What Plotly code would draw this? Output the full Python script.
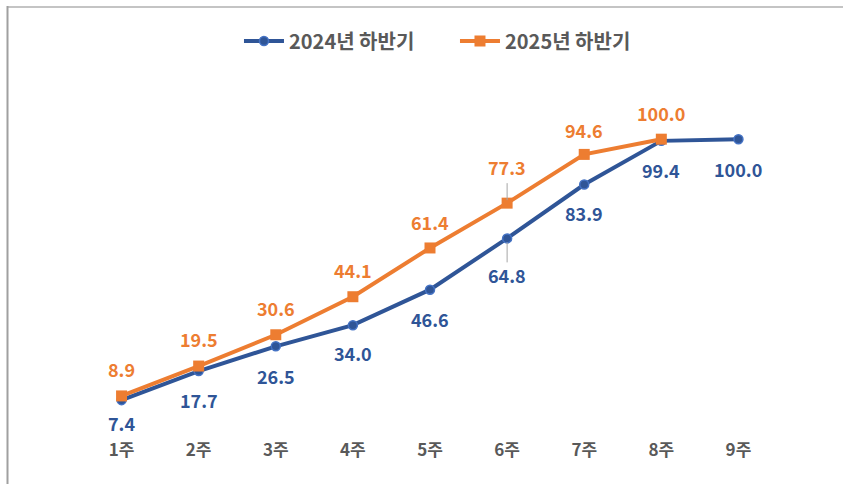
import plotly.graph_objects as go

weeks = ["1주", "2주", "3주", "4주", "5주", "6주", "7주", "8주", "9주"]
y2024 = [7.4, 17.7, 26.5, 34.0, 46.6, 64.8, 83.9, 99.4, 100.0]
y2025 = [8.9, 19.5, 30.6, 44.1, 61.4, 77.3, 94.6, 100.0]
name2024 = "2024년 하반기"
name2025 = "2025년 하반기"

# label pixel shifts (style, not data)
shift2024 = [-23, -29, -30, -28, -29, -37, -28, -29, -30]
shift2025 = [27, 27, 27, 27, 26, 36, 24, 26]

BLUE = "#2F5597"
ORANGE = "#ED7D31"
GRAY = "#595959"
FONT = "Noto Sans CJK KR"

L, R, T, B = 83, 66, 111, 63
PW, PH = 843 - L - R, 484 - T - B


def px_x(p):
    return (p - L) / PW


def px_y(p):
    return (484 - B - p) / PH


fig = go.Figure()
fig.add_trace(go.Scatter(
    x=weeks, y=y2024, name=name2024, mode="lines+markers",
    line=dict(color=BLUE, width=4),
    marker=dict(symbol="circle", size=9, color=BLUE, line=dict(color="#4472C4", width=1.5)),
))
fig.add_trace(go.Scatter(
    x=weeks[:len(y2025)], y=y2025, name=name2025, mode="lines+markers",
    line=dict(color=ORANGE, width=4),
    marker=dict(symbol="square", size=11, color=ORANGE),
))

anns = []
for w, v, s in zip(weeks, y2024, shift2024):
    anns.append(dict(x=w, y=v, text=f"{v:.1f}", showarrow=False, yshift=s,
                     font=dict(family=FONT, size=18, color=BLUE, weight="bold")))
for w, v, s in zip(weeks, y2025, shift2025):
    anns.append(dict(x=w, y=v, text=f"{v:.1f}", showarrow=False, yshift=s,
                     font=dict(family=FONT, size=18, color=ORANGE, weight="bold")))

shapes = [
    # leader lines for moved labels
    dict(type="line", xref="x", yref="y", x0=weeks[5], x1=weeks[5],
         ysizemode="pixel", yanchor=y2025[5], y0=3, y1=20,
         line=dict(color="#A6A6A6", width=1)),
    dict(type="line", xref="x", yref="y", x0=weeks[5], x1=weeks[5],
         ysizemode="pixel", yanchor=y2024[5], y0=-4, y1=-24,
         line=dict(color="#A6A6A6", width=1)),
    # outer frame: top and left edges visible
    dict(type="line", xref="paper", yref="paper",
         x0=px_x(7), x1=px_x(843), y0=px_y(7), y1=px_y(7),
         line=dict(color="#C4C4C4", width=2), layer="below"),
    dict(type="line", xref="paper", yref="paper",
         x0=px_x(7.5), x1=px_x(7.5), y0=px_y(6), y1=px_y(484),
         line=dict(color="#A0A0A0", width=2), layer="below"),
]

fig.update_layout(
    width=843, height=484,
    margin=dict(l=L, r=R, t=T, b=B),
    paper_bgcolor="white", plot_bgcolor="white",
    showlegend=True,
    legend=dict(orientation="h", x=0.536, xanchor="center", y=px_y(41), yanchor="middle",
                font=dict(family=FONT, size=20, color=GRAY, weight="bold"),
                itemwidth=40, entrywidth=161, tracegroupgap=0),
    xaxis=dict(range=[-0.5, 8.5], showgrid=False, zeroline=False, showline=False,
               ticks="", ticklabelstandoff=17,
               tickfont=dict(family=FONT, size=17, color=GRAY, weight="bold")),
    yaxis=dict(range=[0, 110], visible=False),
    annotations=anns,
    shapes=shapes,
)

fig.write_html("out.html", config={"displayModeBar": False},
               post_script="document.body.style.margin='0';")
